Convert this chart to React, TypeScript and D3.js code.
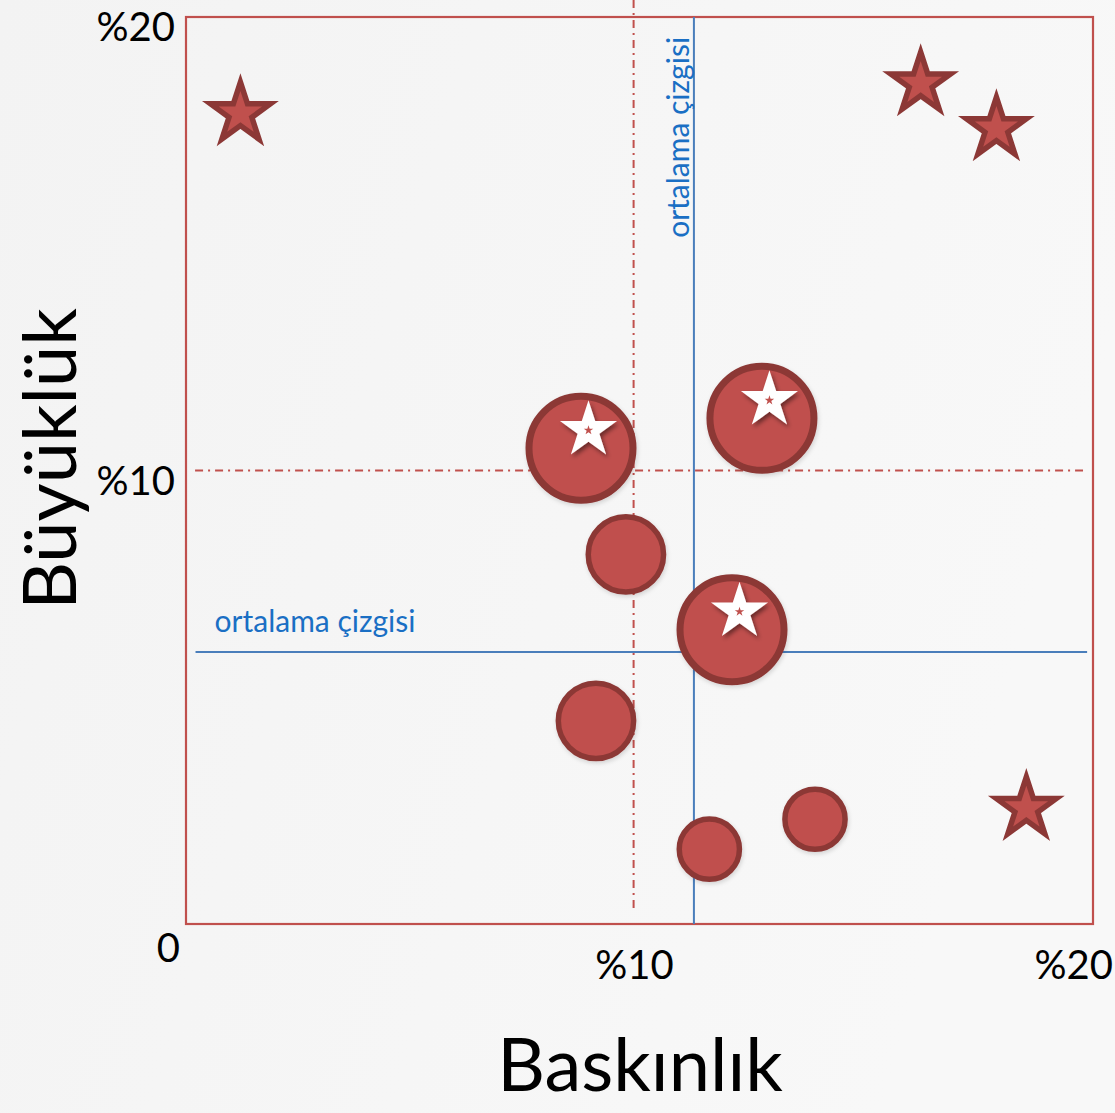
import React from "react";
import * as d3 from "d3";

// ---- data ----
const starX = [1.2, 16.2, 17.87, 18.53];
const starY = [17.87, 18.53, 17.54, 2.55];

const bubbleX = [8.71, 12.7, 9.7, 12.04, 9.04, 13.87, 11.54];
const bubbleY = [10.49, 11.15, 8.15, 6.49, 4.48, 2.31, 1.65];
const bubbleSize = [100, 100, 53, 100, 53, 35, 35];
const bubbleStar = [true, true, false, true, false, false, false];

const meanX = 11.2;
const meanY = 6.0;
const refX = 9.87;
const refY = 10;

const xTicks = [0, 10, 20];
const xTickLabels = ["0", "%10", "%20"];
const yTicks = [10, 20];
const yTickLabels = ["%10", "%20"];

const xTitle = "Baskınlık";
const yTitle = "Büyüklük";
const meanLabel = "ortalama çizgisi";

// ---- styling ----
const W = 1115;
const H = 1113;
const RED = "#c0504d";
const DARK = "#8c3836";
const BLUE = "#4a7ebb";
const BLUE_TXT = "#1a6fc4";
const FONT = "Lato, 'Open Sans', sans-serif";

function starPath(R: number, ratio = 0.382): string {
  const pts: [number, number][] = [];
  for (let i = 0; i < 10; i++) {
    const r = i % 2 === 0 ? R : R * ratio;
    const a = (i * Math.PI) / 5;
    pts.push([r * Math.sin(a), -r * Math.cos(a)]);
  }
  return (d3.line()(pts) as string) + "Z";
}

export default function App() {
  const x = d3.scaleLinear().domain([0, 20]).range([186, 1093]);
  const y = d3.scaleLinear().domain([0, 20]).range([924, 17]);
  const r = d3.scaleSqrt().domain([0, 100]).range([0, 55.5]);

  const outerStar = starPath(31.5);
  const whiteStar = starPath(30);
  const tinyStar = starPath(5);

  const dash = "8,5,2,5";

  return (
    <svg
      width={W}
      height={H}
      style={{ position: "absolute", left: 0, top: 0, display: "block" }}
      fontFamily={FONT}
    >
      <defs>
        <linearGradient id="bg" x1="0" y1="0" x2="1" y2="0.3">
          <stop offset="0" stopColor="#f3f3f3" />
          <stop offset="0.6" stopColor="#f6f6f6" />
          <stop offset="1" stopColor="#f8f8f8" />
        </linearGradient>
        <filter id="shadow" x="-50%" y="-50%" width="200%" height="200%">
          <feDropShadow dx="2" dy="3" stdDeviation="2" floodColor="#000" floodOpacity="0.45" />
        </filter>
        <filter id="bshadow" x="-30%" y="-30%" width="160%" height="160%">
          <feDropShadow dx="1" dy="2" stdDeviation="2" floodColor="#000" floodOpacity="0.15" />
        </filter>
      </defs>
      <rect x={0} y={0} width={W} height={H} fill="url(#bg)" />

      {/* plot frame */}
      <rect
        x={x(0)}
        y={y(20)}
        width={x(20) - x(0)}
        height={y(0) - y(20)}
        fill="none"
        stroke={RED}
        strokeWidth={2.2}
      />

      {/* reference dash-dot lines */}
      <line x1={x(refX)} x2={x(refX)} y1={0} y2={y(0.3)} stroke={RED} strokeWidth={2} strokeDasharray={dash} />
      <line x1={x(0.2)} x2={x(19.78)} y1={y(refY)} y2={y(refY)} stroke={RED} strokeWidth={2} strokeDasharray={dash} />

      {/* mean lines */}
      <line x1={x(meanX)} x2={x(meanX)} y1={y(20)} y2={y(0)} stroke={BLUE} strokeWidth={2} />
      <line x1={x(0.21)} x2={x(19.87)} y1={y(meanY)} y2={y(meanY)} stroke={BLUE} strokeWidth={2} />

      <text x={x(0.63)} y={y(meanY) - 20} fontSize={30} fill={BLUE_TXT}>
        {meanLabel}
      </text>
      <text
        transform={`translate(${x(meanX) - 5},${y(15.13)}) rotate(-90)`}
        fontSize={30}
        fill={BLUE_TXT}
      >
        {meanLabel}
      </text>

      {/* bubbles */}
      {bubbleX.map((bx, i) => {
        const R = r(bubbleSize[i]);
        const sw = R > 50 ? 7 : 5.5;
        return (
          <g key={"b" + i} transform={`translate(${x(bx)},${y(bubbleY[i])})`}>
            <circle r={R - sw / 2} fill={RED} stroke={DARK} strokeWidth={sw} filter="url(#bshadow)" />
            {bubbleStar[i] && (
              <g transform="translate(7.5,-18)">
                <path d={whiteStar} fill="#ffffff" filter="url(#shadow)" />
                <path d={tinyStar} fill={RED} />
              </g>
            )}
          </g>
        );
      })}

      {/* stars */}
      {starX.map((sx, i) => (
        <path
          key={"s" + i}
          d={outerStar}
          transform={`translate(${x(sx)},${y(starY[i])})`}
          fill={RED}
          stroke={DARK}
          strokeWidth={5.5}
          strokeLinejoin="miter"
        />
      ))}

      {/* tick labels */}
      {xTicks.map((t, i) => {
        const anchor = i === 0 ? "end" : i === 1 ? "middle" : "end";
        const dx = i === 0 ? -6 : i === 1 ? -5 : 20;
        const by = i === 0 ? 962 : 979;
        return (
          <text key={"xt" + i} x={x(t) + dx} y={by} textAnchor={anchor} fontSize={40} fill="#000">
            {xTickLabels[i]}
          </text>
        );
      })}
      {yTicks.map((t, i) => (
        <text key={"yt" + i} x={175} y={y(t) + 24} textAnchor="end" fontSize={40} fill="#000">
          {yTickLabels[i]}
        </text>
      ))}

      {/* axis titles */}
      <text x={640} y={1091} textAnchor="middle" fontSize={74} fill="#000">
        {xTitle}
      </text>
      <text
        transform={`translate(76,459) rotate(-90)`}
        textAnchor="middle"
        fontSize={74}
        fill="#000"
      >
        {yTitle}
      </text>
    </svg>
  );
}
